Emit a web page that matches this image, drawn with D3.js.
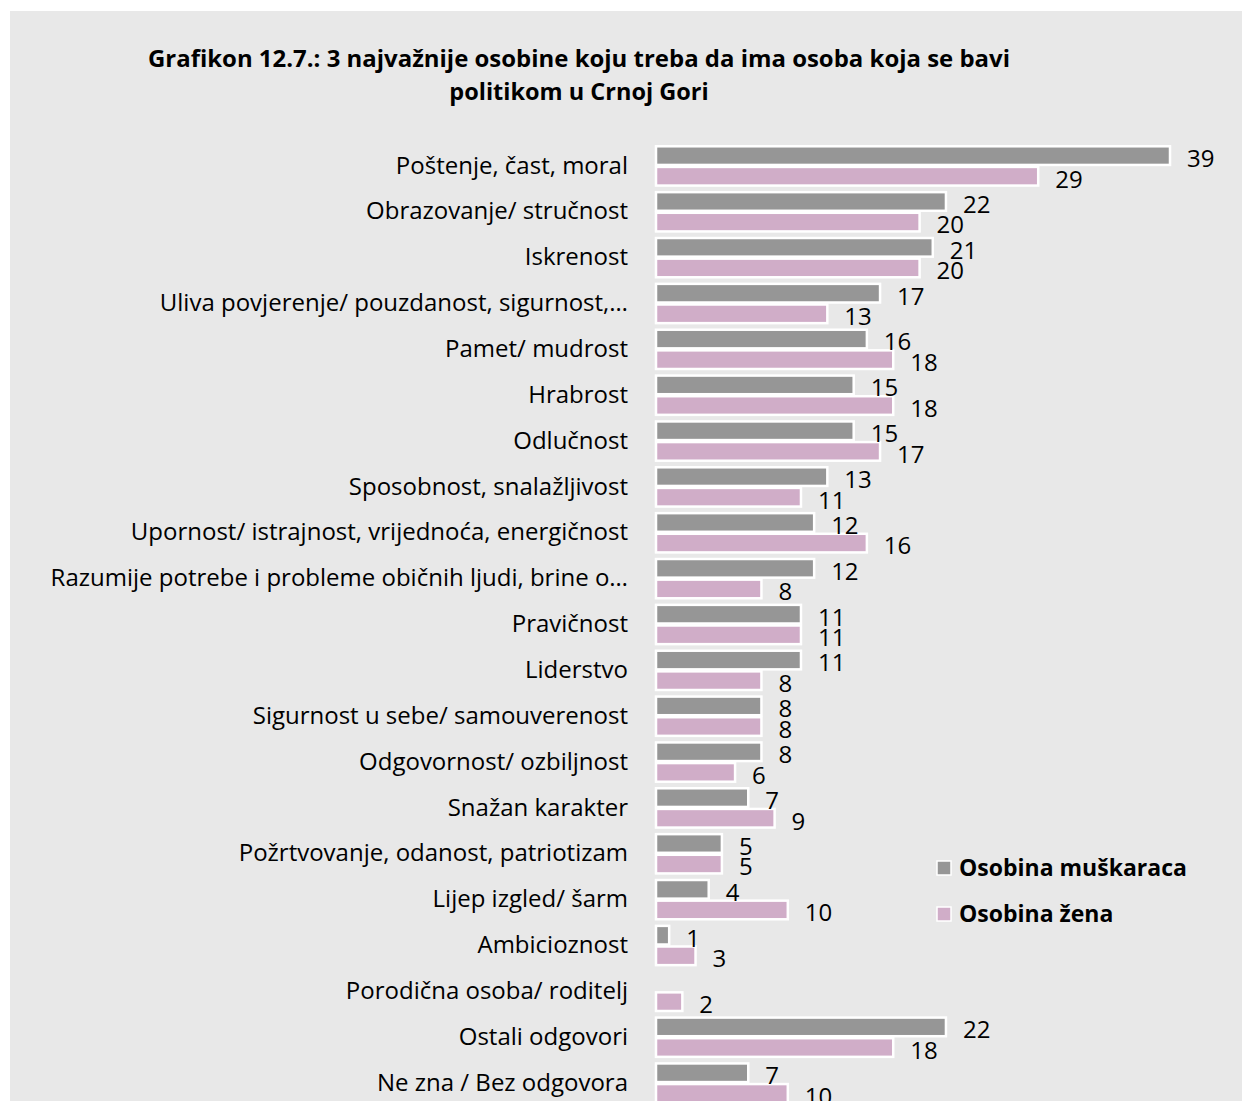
<!DOCTYPE html>
<html>
<head>
<meta charset="utf-8">
<script src="https://cdn.jsdelivr.net/npm/d3@7"></script>
<style>
  html, body { margin: 0; padding: 0; background: #ffffff; }
  svg { display: block; }
  text { font-family: "Open Sans", "Noto Sans", sans-serif; fill: #000; }
</style>
</head>
<body>
<svg id="chart" width="1242" height="1101"></svg>
<script>
const categories = [
  "Poštenje, čast, moral",
  "Obrazovanje/ stručnost",
  "Iskrenost",
  "Uliva povjerenje/ pouzdanost, sigurnost,…",
  "Pamet/ mudrost",
  "Hrabrost",
  "Odlučnost",
  "Sposobnost, snalažljivost",
  "Upornost/ istrajnost, vrijednoća, energičnost",
  "Razumije potrebe i probleme običnih ljudi, brine o…",
  "Pravičnost",
  "Liderstvo",
  "Sigurnost u sebe/ samouverenost",
  "Odgovornost/ ozbiljnost",
  "Snažan karakter",
  "Požrtvovanje, odanost, patriotizam",
  "Lijep izgled/ šarm",
  "Ambicioznost",
  "Porodična osoba/ roditelj",
  "Ostali odgovori",
  "Ne zna / Bez odgovora"
];
const men   = [39, 22, 21, 17, 16, 15, 15, 13, 12, 12, 11, 11, 8, 8, 7, 5, 4, 1, null, 22, 7];
const women = [29, 20, 20, 13, 18, 18, 17, 11, 16, 8, 11, 8, 8, 6, 9, 5, 10, 3, 2, 18, 10];
const seriesNames = ["Osobina muškaraca", "Osobina žena"];
const titleLines = [
  "Grafikon 12.7.: 3 najvažnije osobine koju treba da ima osoba koja se bavi",
  "politikom u Crnoj Gori"
];

const colors = ["#969696", "#d0adc8"];
const svg = d3.select("#chart");

svg.append("rect").attr("x", 10).attr("y", 11).attr("width", 1232).attr("height", 1090)
  .attr("fill", "#e8e8e8");

svg.selectAll("text.title").data(titleLines).join("text")
  .attr("class", "title")
  .attr("x", 579).attr("y", (d, i) => 67 + i * 33)
  .attr("text-anchor", "middle")
  .attr("font-weight", "bold")
  .attr("font-size", 23.5)
  .attr("textLength", (d, i) => i === 0 ? 862 : null)
  .attr("lengthAdjust", "spacingAndGlyphs")
  .text(d => d);

const x = d3.scaleLinear().domain([0, 39]).range([656, 1170]);
const y = d3.scaleBand().domain(categories).range([143, 1106]).paddingInner(0.1).paddingOuter(0.05);
const ys = d3.scaleBand().domain([0, 1]).range([0, y.bandwidth()]);

const rows = categories.map((c, i) => ({ c, vals: [men[i], women[i]] }));

const g = svg.append("g");
const yAxis = d3.axisLeft(y).tickSize(0).tickPadding(0);
const ax = g.append("g").attr("transform", `translate(628,0)`).call(yAxis);
ax.select(".domain").remove();
ax.selectAll("text").attr("font-size", 24).attr("font-family", "'Open Sans', 'Noto Sans', sans-serif")
  .attr("fill", "#000").attr("dy", "0.32em");

const groups = g.selectAll("g.row").data(rows).join("g")
  .attr("class", "row")
  .attr("transform", d => `translate(0,${y(d.c)})`);

groups.selectAll("rect").data(d => d.vals.map((v, k) => ({ v, k })).filter(e => e.v != null)).join("rect")
  .attr("x", x(0))
  .attr("y", e => ys(e.k) + 1)
  .attr("width", e => x(e.v) - x(0))
  .attr("height", ys.bandwidth() - 2)
  .attr("fill", e => colors[e.k])
  .attr("stroke", "#ffffff")
  .attr("stroke-width", 2.5);

groups.selectAll("text.val").data(d => d.vals.map((v, k) => ({ v, k })).filter(e => e.v != null)).join("text")
  .attr("class", "val")
  .attr("x", e => x(e.v) + 17)
  .attr("y", e => ys(e.k) + ys.bandwidth() / 2 + 3)
  .attr("dy", "0.35em")
  .attr("font-size", 24)
  .text(e => e.v);

const leg = svg.append("g").attr("transform", "translate(937,0)");
seriesNames.forEach((s, i) => {
  const yy = 868 + i * 46;
  leg.append("rect").attr("x", 0).attr("y", yy - 7).attr("width", 14).attr("height", 14)
    .attr("fill", colors[i]).attr("stroke", "#fff").attr("stroke-width", 1.5);
  leg.append("text").attr("x", 22).attr("y", yy).attr("dy", "0.35em")
    .attr("font-size", 23).attr("font-weight", "bold").text(s);
});
</script>
</body>
</html>
